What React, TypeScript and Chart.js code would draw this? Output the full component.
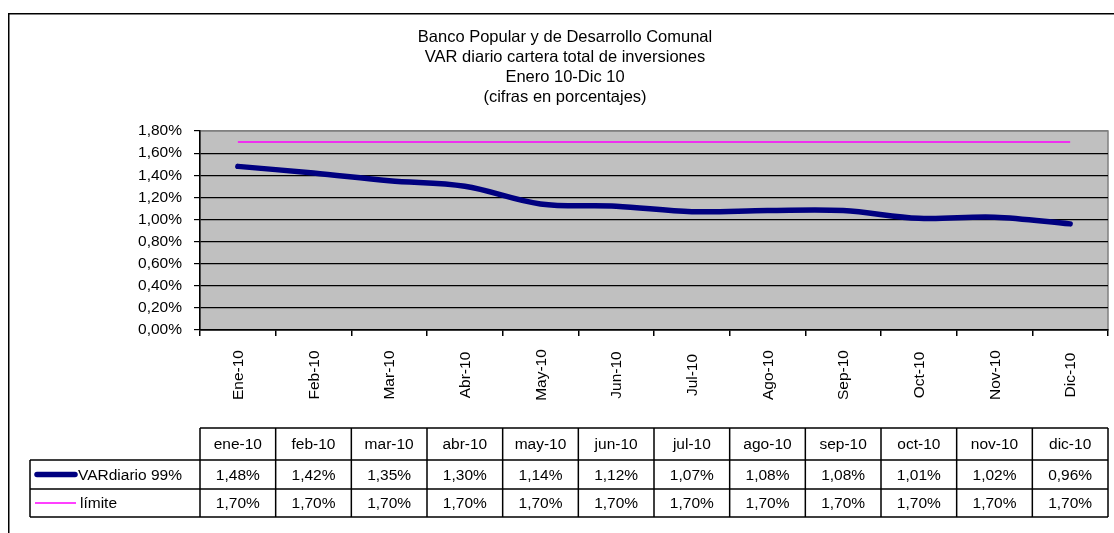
import React, { useEffect, useRef } from 'react';
import { Chart, registerables } from 'chart.js';

Chart.register(...registerables);

const titleLines = [
  'Banco Popular y de Desarrollo Comunal',
  'VAR diario cartera total de inversiones',
  'Enero 10-Dic 10',
  '(cifras en porcentajes)',
];
const categories = ['Ene-10', 'Feb-10', 'Mar-10', 'Abr-10', 'May-10', 'Jun-10', 'Jul-10', 'Ago-10', 'Sep-10', 'Oct-10', 'Nov-10', 'Dic-10'];
const tableHeaders = ['ene-10', 'feb-10', 'mar-10', 'abr-10', 'may-10', 'jun-10', 'jul-10', 'ago-10', 'sep-10', 'oct-10', 'nov-10', 'dic-10'];
const varDiario = [1.48, 1.42, 1.35, 1.3, 1.14, 1.12, 1.07, 1.08, 1.08, 1.01, 1.02, 0.96];
const limite = [1.7, 1.7, 1.7, 1.7, 1.7, 1.7, 1.7, 1.7, 1.7, 1.7, 1.7, 1.7];
const seriesNames = ['VARdiario 99%', 'límite'];
const yMin = 0;
const yMax = 1.8;
const yStep = 0.2;

const FONT = '"Liberation Sans", Arial, sans-serif';
const FS = 15.5;
const TITLE_FS = 16.5;
const NAVY = '#000080';
const MAGENTA = '#FF00FF';

const fmt = (v: number) => v.toFixed(2).replace('.', ',') + '%';

const framePlugin = {
  id: 'frame',
  beforeDraw(chart: any) {
    const ctx = chart.ctx;
    const a = chart.chartArea;
    ctx.save();
    ctx.fillStyle = '#ffffff';
    ctx.fillRect(0, 0, chart.width, chart.height);
    ctx.strokeStyle = '#000';
    ctx.lineWidth = 1.5;
    ctx.beginPath();
    ctx.moveTo(8.75, chart.height);
    ctx.lineTo(8.75, 13.75);
    ctx.lineTo(chart.width, 13.75);
    ctx.stroke();
    ctx.fillStyle = '#C0C0C0';
    ctx.fillRect(a.left, a.top, a.right - a.left, a.bottom - a.top);
    ctx.strokeStyle = '#808080';
    ctx.lineWidth = 1.5;
    ctx.strokeRect(a.left, a.top, a.right - a.left, a.bottom - a.top);
    ctx.restore();
  },
};

const tablePlugin = {
  id: 'dataTable',
  afterDraw(chart: any) {
    const ctx = chart.ctx;
    const xs = chart.scales.x;
    const n = categories.length;
    const half = (xs.getPixelForValue(1) - xs.getPixelForValue(0)) / 2;
    const L = xs.getPixelForValue(0) - half;
    const R = xs.getPixelForValue(n - 1) + half;
    const yHeadTop = 428;
    const yRow1 = 460;
    const yRow2 = 489;
    const yBottom = 517;
    const legLeft = 30;

    ctx.save();
    ctx.fillStyle = '#000';
    ctx.font = `${FS}px ${FONT}`;
    ctx.textAlign = 'center';
    ctx.textBaseline = 'middle';
    for (let i = 0; i < n; i++) {
      const cx = xs.getPixelForValue(i);
      ctx.save();
      ctx.translate(cx + 1, 375);
      ctx.rotate(-Math.PI / 2);
      ctx.fillText(categories[i], 0, 0);
      ctx.restore();
    }

    ctx.strokeStyle = '#000';
    ctx.lineWidth = 1.5;
    ctx.beginPath();
    ctx.moveTo(L, yHeadTop);
    ctx.lineTo(R, yHeadTop);
    [yRow1, yRow2, yBottom].forEach((y) => {
      ctx.moveTo(legLeft, y);
      ctx.lineTo(R, y);
    });
    ctx.moveTo(legLeft, yRow1);
    ctx.lineTo(legLeft, yBottom);
    for (let i = 0; i <= n; i++) {
      const bx = L + i * 2 * half;
      ctx.moveTo(bx, yHeadTop);
      ctx.lineTo(bx, yBottom);
    }
    ctx.stroke();

    ctx.textAlign = 'center';
    ctx.textBaseline = 'middle';
    for (let i = 0; i < n; i++) {
      const cx = xs.getPixelForValue(i);
      ctx.fillText(tableHeaders[i], cx, (yHeadTop + yRow1) / 2 + 1);
      ctx.fillText(fmt(varDiario[i]), cx, (yRow1 + yRow2) / 2 + 1);
      ctx.fillText(fmt(limite[i]), cx, (yRow2 + yBottom) / 2 + 1);
    }

    const y1 = (yRow1 + yRow2) / 2;
    const y2 = (yRow2 + yBottom) / 2;
    ctx.lineCap = 'round';
    ctx.strokeStyle = NAVY;
    ctx.lineWidth = 5.5;
    ctx.beginPath();
    ctx.moveTo(37, y1);
    ctx.lineTo(75, y1);
    ctx.stroke();
    ctx.strokeStyle = MAGENTA;
    ctx.lineWidth = 1.5;
    ctx.lineCap = 'butt';
    ctx.beginPath();
    ctx.moveTo(35, y2);
    ctx.lineTo(76, y2);
    ctx.stroke();
    ctx.textAlign = 'left';
    ctx.fillStyle = '#000';
    ctx.fillText(seriesNames[0], 78, y1 + 1);
    ctx.fillText(seriesNames[1], 80, y2 + 1);
    ctx.restore();
  },
};

export default function App() {
  const ref = useRef<HTMLCanvasElement | null>(null);

  useEffect(() => {
    document.documentElement.style.overflow = 'hidden';
    const canvas = ref.current;
    if (!canvas) return;
    const chart = new Chart(canvas, {
      type: 'line',
      data: {
        labels: categories,
        datasets: [
          {
            label: seriesNames[0],
            data: varDiario,
            borderColor: NAVY,
            backgroundColor: NAVY,
            borderWidth: 5.5,
            tension: 0.35,
            pointRadius: 0,
            borderCapStyle: 'round',
            borderJoinStyle: 'round',
            fill: false,
          },
          {
            label: seriesNames[1],
            data: limite,
            borderColor: MAGENTA,
            backgroundColor: MAGENTA,
            borderWidth: 1.5,
            tension: 0,
            pointRadius: 0,
            fill: false,
          },
        ],
      },
      options: {
        animation: false,
        responsive: false,
        devicePixelRatio: 1,
        layout: { padding: { left: 22, right: 6, top: 0, bottom: 0 } },
        plugins: {
          legend: { display: false },
          tooltip: { enabled: false },
          title: {
            display: true,
            text: titleLines,
            color: '#000',
            font: { family: FONT, size: TITLE_FS, weight: 'normal', lineHeight: 20 / TITLE_FS },
            padding: { top: 27.5, bottom: 23.5 },
          },
        },
        scales: {
          x: {
            type: 'category',
            offset: true,
            ticks: { display: false },
            grid: {
              display: true,
              offset: true,
              drawOnChartArea: false,
              drawTicks: true,
              tickLength: 6,
              color: '#000',
              lineWidth: 1.5,
            },
            border: { display: true, color: '#000', width: 1.5 },
            afterFit: (s: any) => {
              s.height = 203;
            },
          },
          y: {
            min: yMin,
            max: yMax,
            ticks: {
              stepSize: yStep,
              color: '#000',
              padding: 12,
              font: { family: FONT, size: FS },
              callback: (v: any) => fmt(Number(v)),
            },
            grid: {
              color: (c: any) => (c.tick && Math.abs(c.tick.value - yMax) < 1e-6 ? '#808080' : '#000'),
              tickColor: '#000',
              lineWidth: 1.2,
              drawTicks: true,
              tickLength: 6,
            },
            border: { display: true, color: '#000', width: 1.5 },
            afterFit: (s: any) => {
              s.width = 178;
            },
          },
        },
      },
      plugins: [framePlugin, tablePlugin],
    } as any);
    return () => chart.destroy();
  }, []);

  return (
    <canvas
      ref={ref}
      width={1114}
      height={533}
      style={{ position: 'fixed', left: 0, top: 0, width: 1114, height: 533, display: 'block' }}
    />
  );
}
